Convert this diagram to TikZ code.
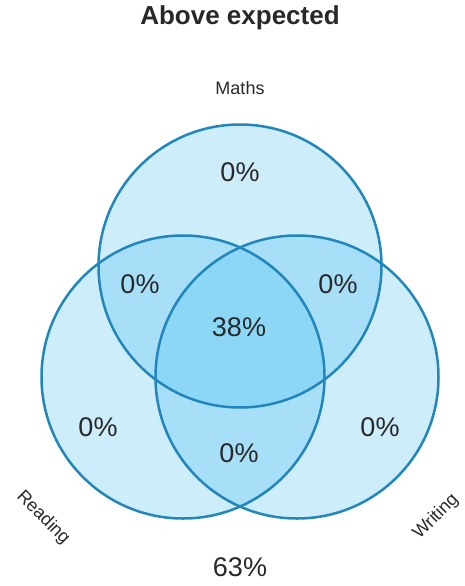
\documentclass[tikz,border=0pt]{standalone}
\usepackage{fontspec}
\setmainfont{Liberation Sans}
\usepackage{tikz}
\usetikzlibrary{positioning}
\definecolor{vennblue}{RGB}{60, 185, 240}
\definecolor{vennline}{RGB}{32, 134, 188}
\definecolor{textgrey}{RGB}{40, 40, 40}

\begin{document}
\begin{tikzpicture}[
    x=1pt, y=-1pt,
    setcircle/.style={circle, minimum size=283pt, inner sep=0pt,
                      fill=vennblue, fill opacity=0.26},
    outline/.style={draw=vennline, line width=2.5pt},
    pct/.style={text=textgrey, font=\fontsize{27}{32}\selectfont},
    setlabel/.style={text=textgrey, font=\fontsize{18}{22}\selectfont}
]
    \useasboundingbox (0,0) rectangle (465,586);

    % the three sets
    \node[setcircle] (maths) at (240,266) {};
    \node[setcircle] (reading) at (183,377) {};
    \node[setcircle] (writing) at (297,377) {};
    \foreach \s in {maths, reading, writing}
        \draw[outline] (\s.center) circle (141.5pt);

    % titles
    \node[text=textgrey, font=\bfseries\fontsize{26}{30}\selectfont] (title) at (240,18) {Above expected};
    \node[setlabel] (mlabel) at (240,88) {Maths};
    \node[setlabel, rotate=-45] (rlabel) at (43,518) {Reading};
    \node[setlabel, rotate=45] (wlabel) at (436,517) {Writing};

    % regions
    \node[pct] (monly) at (240,172) {0\%};
    \node[pct] (mr) at (140,284) {0\%};
    \node[pct] (mw) at (338,284) {0\%};
    \node[pct] (all) at (239,327) {38\%};
    \node[pct] (ronly) at (98,427) {0\%};
    \node[pct] (wonly) at (380,427) {0\%};
    \node[pct] (rw) at (239,453) {0\%};
    \node[pct] (none) at (240,567) {63\%};
\end{tikzpicture}
\end{document}
